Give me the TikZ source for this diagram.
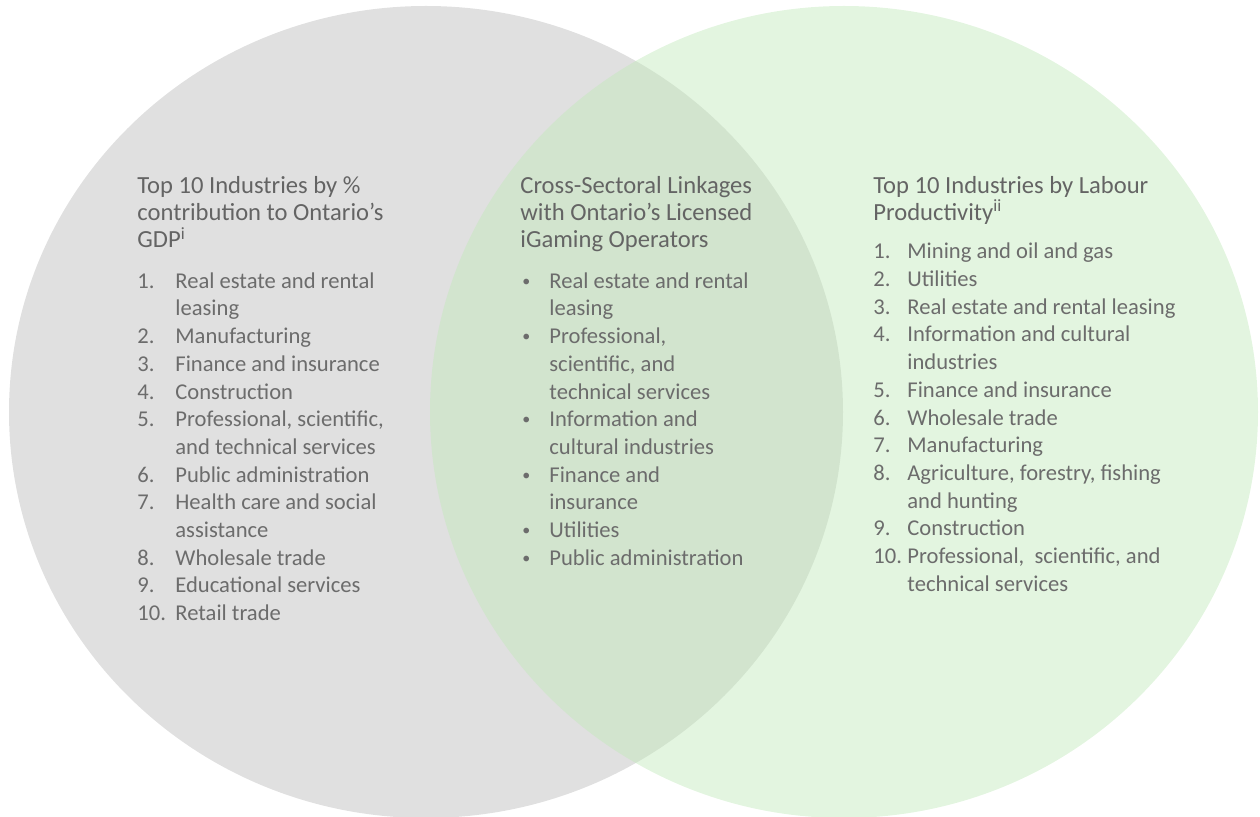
\documentclass[tikz,border=0pt]{standalone}
\usepackage{fontspec}
\setmainfont{Carlito}
\usetikzlibrary{positioning}

\definecolor{circgray}{RGB}{224,224,224}
\definecolor{circgreen}{RGB}{193,233,186}
\definecolor{headgray}{RGB}{100,100,100}
\definecolor{itemgray}{RGB}{108,108,108}

\newcommand{\smallbullet}{{\footnotesize\raisebox{0.25ex}{•}}}

\tikzset{
  heading/.style={anchor=north west, inner sep=0pt, align=left, text=headgray,
    font=\fontsize{12.3}{13.6}\selectfont},
  itemlist/.style={inner sep=0pt, text=itemgray, font=\fontsize{11.3}{13.85}\selectfont},
}

\begin{document}
\begin{tikzpicture}[x=0.5pt,y=-0.5pt]
\useasboundingbox (0,0) rectangle (1260,817);

%Circles
\fill[circgray] (426,412) ellipse [x radius=417, y radius=406];
\fill[circgreen, fill opacity=0.45] (844,412) ellipse [x radius=414, y radius=406];

%Headings
\node[heading] (gdphead) at (137,176) {Top 10 Industries by \%\\contribution to Ontario’s\\GDP\textsuperscript{i}};
\node[heading] (linkhead) at (520,176) {Cross-Sectoral Linkages\\with Ontario’s Licensed\\iGaming Operators};
\node[heading] (prodhead) at (873,176) {Top 10 Industries by Labour\\Productivity\textsuperscript{ii}};

%Lists
\node[itemlist, below=10pt of gdphead.south west, anchor=north west] (gdplist) {%
\begin{tabular}{@{}p{19pt}@{}l@{}}
1. & Real estate and rental\\
   & leasing\\
2. & Manufacturing\\
3. & Finance and insurance\\
4. & Construction\\
5. & Professional, scientific,\\
   & and technical services\\
6. & Public administration\\
7. & Health care and social\\
   & assistance\\
8. & Wholesale trade\\
9. & Educational services\\
10. & Retail trade
\end{tabular}};

\node[itemlist, below=8pt of linkhead.south west, anchor=north west, xshift=1pt] (linklist) {%
\begin{tabular}{@{}p{13.5pt}@{}l@{}}
\smallbullet & Real estate and rental\\
  & leasing\\
\smallbullet & Professional,\\
  & scientific, and\\
  & technical services\\
\smallbullet & Information and\\
  & cultural industries\\
\smallbullet & Finance and\\
  & insurance\\
\smallbullet & Utilities\\
\smallbullet & Public administration
\end{tabular}};

\node[itemlist, below=7pt of prodhead.south west, anchor=north west] (prodlist) {%
\begin{tabular}{@{}p{17pt}@{}l@{}}
1. & Mining and oil and gas\\
2. & Utilities\\
3. & Real estate and rental leasing\\
4. & Information and cultural\\
   & industries\\
5. & Finance and insurance\\
6. & Wholesale trade\\
7. & Manufacturing\\
8. & Agriculture, forestry, fishing\\
   & and hunting\\
9. & Construction\\
10. & Professional,\ \ scientific, and\\
    & technical services
\end{tabular}};
\end{tikzpicture}
\end{document}
